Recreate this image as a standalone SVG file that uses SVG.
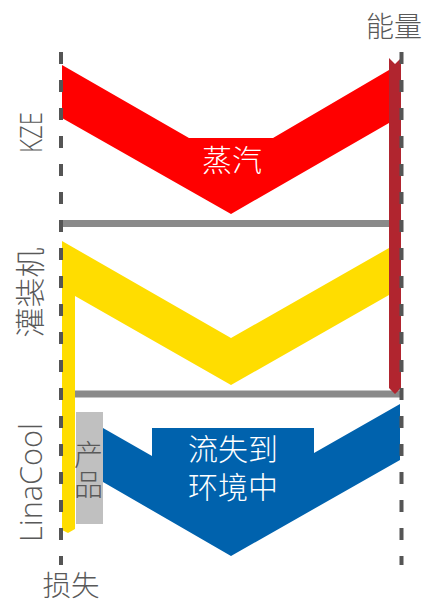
<svg xmlns="http://www.w3.org/2000/svg" width="426" height="605" viewBox="0 0 426 605">
  <style>
    .lbl { font-family: "Open Sans", "Liberation Sans", "Noto Sans CJK SC", sans-serif; font-weight: 300; fill: #595959; }
    .cjk { font-family: "Noto Sans CJK SC", sans-serif; font-weight: 300; }
    .wt { fill: #ffffff; font-size: 30px; text-anchor: middle; }
    .gy { fill: #595959; }
    .dash { stroke: #555555; stroke-width: 4; stroke-dasharray: 12 16; fill: none; }
    .rule { stroke: #8a8a8a; stroke-width: 7; fill: none; }
  </style>
  <rect width="426" height="605" fill="#ffffff"/>

  <g id="kze-steam">
    <polygon points="62,65 189,138 273,138 389,70 389,123 231,214 62,118" fill="#ff0000"/>
    <text class="cjk wt" x="232" y="171">蒸汽</text>
  </g>

  <g id="filler-flow">
    <polygon points="62,241 231,338 389,248 389,295 231,385 75,296 75,529 68,533 62,530" fill="#ffdd00"/>
  </g>

  <g id="connectors">
    <line class="rule" x1="61" y1="223.5" x2="389" y2="223.5"/>
    <line class="rule" x1="75" y1="394" x2="401" y2="394"/>
  </g>

  <g id="product">
    <rect x="76" y="412" width="27" height="112" fill="#c0c0c0"/>
    <text class="cjk gy" font-size="29" text-anchor="middle"><tspan x="88.5" y="466">产</tspan><tspan x="88.5" y="496">品</tspan></text>
  </g>

  <g id="linacool-loss">
    <polygon points="103,428 152,456 152,428 314,428 314,453 400,404 400,460 231,556 103,482" fill="#0062ad"/>
    <text class="cjk wt"><tspan x="233" y="460">流失到</tspan><tspan x="233" y="498">环境中</tspan></text>
  </g>

  <g id="energy-bar">
    <polygon points="389,58 395,64 401,58 401,388 395,394 389,388" fill="#b1252f"/>
  </g>

  <g id="axes">
    <line class="dash" x1="61" y1="52" x2="61" y2="565"/>
    <line class="dash" x1="401.5" y1="52" x2="401.5" y2="565"/>
  </g>

  <g id="labels">
    <text class="cjk gy" x="394" y="37" font-size="28" text-anchor="middle">能量</text>
    <text class="cjk gy" x="71" y="596" font-size="28.5" text-anchor="middle">损失</text>
    <text class="lbl" transform="translate(42,132.5) rotate(-90)" font-size="32" text-anchor="middle" textLength="41" lengthAdjust="spacingAndGlyphs">KZE</text>
    <text class="cjk gy" transform="translate(41,292.5) rotate(-90)" font-size="30" text-anchor="middle">灌装机</text>
    <text class="lbl" transform="translate(42,482.5) rotate(-90)" font-size="31" text-anchor="middle" textLength="119" lengthAdjust="spacingAndGlyphs">LinaCool</text>
  </g>
</svg>
